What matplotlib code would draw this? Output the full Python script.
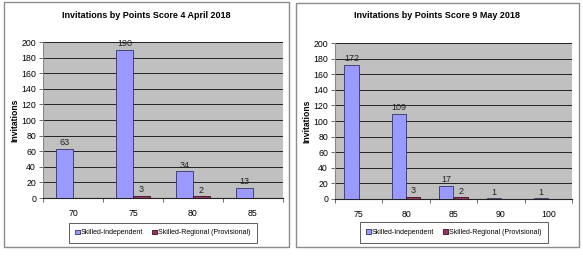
import numpy as np
import matplotlib.pyplot as plt
from matplotlib.patches import Rectangle

plt.rcParams['font.family'] = ['Liberation Sans', 'DejaVu Sans']

# data
apr_title = 'Invitations by Points Score 4 April 2018'
apr_cats = ['70', '75', '80', '85']
apr_indep = [63, 190, 34, 13]
apr_regional = [0, 3, 2, 0]

may_title = 'Invitations by Points Score 9 May 2018'
may_cats = ['75', '80', '85', '90', '100']
may_indep = [172, 109, 17, 1, 1]
may_regional = [0, 3, 2, 0, 0]

series_names = ['Skilled-Independent', 'Skilled-Regional (Provisional)']
blue = '#9999ff'
red = '#993366'

W, H = 583, 257
fig = plt.figure(figsize=(W / 100, H / 100), dpi=100)


def px(x0, y0, x1, y1):
    # pixel box (top-left origin) -> figure fraction
    return [x0 / W, 1 - y1 / H, (x1 - x0) / W, (y1 - y0) / H]


def panel(border, plot, legend_box, title, cats, indep, regional, bw):
    bx0, by0, bx1, by1 = border
    fig.patches.append(Rectangle((bx0 / W, 1 - by1 / H), (bx1 - bx0) / W, (by1 - by0) / H,
                                 transform=fig.transFigure, fill=False,
                                 edgecolor='#8c8c8c', lw=1.0))
    ax = fig.add_axes(px(*plot))
    ax.set_facecolor('#c0c0c0')
    x = np.arange(len(cats))
    b1 = ax.bar(x - bw / 2, indep, bw, color=blue, edgecolor='#333366', lw=0.6,
                label=series_names[0], zorder=3)
    b2 = ax.bar(x + bw / 2, regional, bw, color=red, edgecolor='#331122', lw=0.6,
                label=series_names[1], zorder=3)
    for rect, v in zip(list(b1) + list(b2), indep + regional):
        if v > 0:
            ax.text(rect.get_x() + rect.get_width() / 2, v + 2, str(v),
                    ha='center', va='bottom', fontsize=6.5, color='#222222', zorder=4)
    ax.set_xlim(-0.5, len(cats) - 0.5)
    ax.set_ylim(0, 200)
    ax.set_yticks(range(0, 201, 20))
    ax.yaxis.grid(True, color='#222222', lw=0.7)
    ax.set_axisbelow(True)
    ax.set_xticks(x)
    ax.set_xticklabels(cats)
    ax.set_xticks(np.arange(-0.5, len(cats)), minor=True)
    ax.tick_params(axis='x', which='major', length=0, labelsize=6.3, pad=8)
    ax.tick_params(axis='x', which='minor', length=3, width=0.6, color='#555555')
    ax.tick_params(axis='y', length=3, width=0.6, labelsize=6.3, pad=2, color='#555555')
    for s in ['top', 'right']:
        ax.spines[s].set_visible(False)
    ax.spines['left'].set_color('#888888')
    ax.spines['bottom'].set_color('#222222')
    ax.set_ylabel('Invitations', fontsize=6.2, fontweight='bold', labelpad=1)
    cx = (bx0 + bx1) / 2
    fig.text(cx / W, 1 - 16 / H, title, ha='center', va='center',
             fontsize=6.5, fontweight='bold')
    lax = fig.add_axes(px(*legend_box))
    lax.axis('off')
    lax.legend(handles=[b1, b2], loc='center', ncol=2, fontsize=5, frameon=True,
               edgecolor='#333333', fancybox=False, handlelength=0.6, handleheight=0.6,
               handletextpad=0.2, columnspacing=1.3, borderpad=1.0,
               bbox_to_anchor=(0.5, 0.5))
    lg = lax.get_legend()
    lg.get_frame().set_linewidth(0.7)
    return ax


panel((4, 2, 289, 247), (43, 42, 283, 198), (74, 222, 252, 244),
      apr_title, apr_cats, apr_indep, apr_regional, 0.283)
panel((296, 3, 579, 247), (335, 43, 572, 199), (366, 222, 542, 243),
      may_title, may_cats, may_indep, may_regional, 0.3)

fig.savefig('out.png', dpi=100)
plt.close(fig)
